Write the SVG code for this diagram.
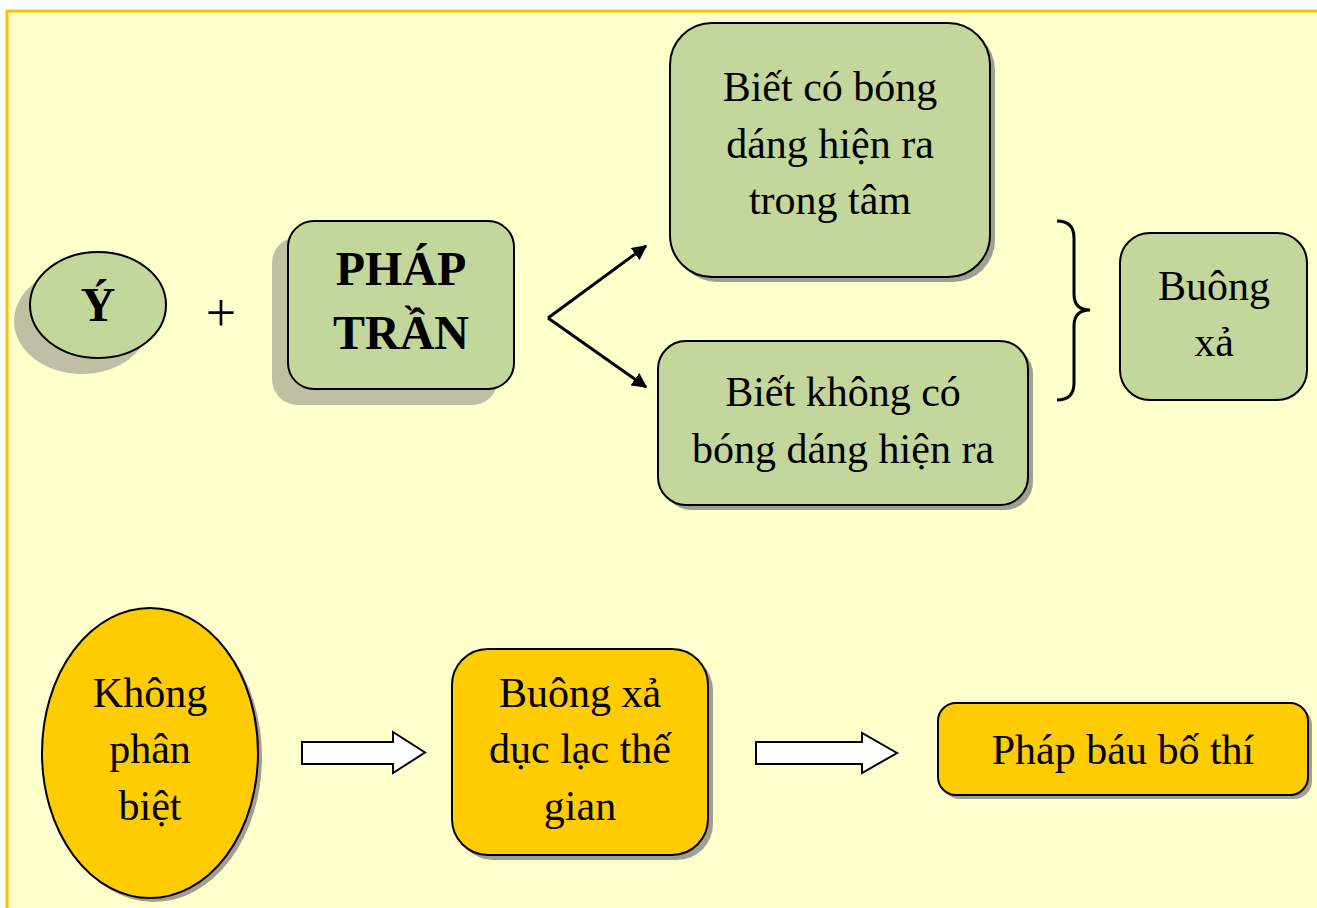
<svg xmlns="http://www.w3.org/2000/svg" width="1317" height="908" viewBox="0 0 1317 908">
<defs>
<style>
.t{font-family:"Liberation Serif","Times New Roman",serif;font-size:42px;fill:#000;text-anchor:middle}
.b{font-weight:bold;font-size:48px}
.plus{font-size:54px}
.g{fill:#C3D69B;stroke:#000;stroke-width:2}
.y{fill:#FFCC00;stroke:#000;stroke-width:2}
.sh1{fill:#C0BFA4}
.sh2{fill:#7F7F7F;opacity:0.75}
.ln{fill:none;stroke:#000;stroke-width:3}
.blk{fill:#fff;stroke:#000;stroke-width:2}
</style>
<marker id="ah" viewBox="0 0 10 10" refX="9" refY="5" markerWidth="5" markerHeight="5" orient="auto" markerUnits="strokeWidth">
<path d="M0,0 L10,5 L0,10 z" fill="#000"/>
</marker>
</defs>
<rect x="0" y="0" width="1317" height="908" fill="#fff"/>
<rect x="7" y="11" width="1320" height="910" fill="#FFFFCC" stroke="#FFC000" stroke-width="3"/>

<g id="node-y">
<ellipse class="sh1" cx="82" cy="321" rx="68" ry="53"/>
<ellipse class="g" cx="98" cy="305" rx="68" ry="53"/>
<text class="t b" x="98" y="321">Ý</text>
</g>
<text class="t plus" x="221" y="331">+</text>
<g id="node-phaptran">
<rect class="sh1" x="272" y="237" width="226" height="168" rx="26"/>
<rect class="g" x="288" y="221" width="226" height="168" rx="26"/>
<text class="t b" x="401" y="285">PHÁP</text>
<text class="t b" x="401" y="349">TRẦN</text>
</g>
<g id="node-biet-co">
<rect class="sh2" x="675" y="28" width="320" height="254" rx="42"/>
<rect class="g" x="670" y="23" width="320" height="254" rx="42"/>
<text class="t" x="830" y="101">Biết có bóng</text>
<text class="t" x="830" y="158">dáng hiện ra</text>
<text class="t" x="830" y="214">trong tâm</text>
</g>
<g id="node-biet-khong">
<rect class="sh2" x="663" y="346" width="370" height="164" rx="28"/>
<rect class="g" x="658" y="341" width="370" height="164" rx="28"/>
<text class="t" x="843" y="406">Biết không có</text>
<text class="t" x="843" y="463">bóng dáng hiện ra</text>
</g>
<g id="node-buong-xa">
<rect class="g" x="1120" y="233" width="187" height="167" rx="30"/>
<text class="t" x="1214" y="300">Buông</text>
<text class="t" x="1214" y="356">xả</text>
</g>
<g id="node-khong-phan-biet">
<ellipse class="sh2" cx="154" cy="757" rx="108" ry="145"/>
<ellipse class="y" cx="150" cy="753" rx="108" ry="145"/>
<text class="t" x="150" y="707">Không</text>
<text class="t" x="150" y="763">phân</text>
<text class="t" x="150" y="820">biệt</text>
</g>
<g id="node-buong-xa-duc-lac">
<rect class="sh2" x="457" y="654" width="256" height="206" rx="36"/>
<rect class="y" x="452" y="649" width="256" height="206" rx="36"/>
<text class="t" x="580" y="707">Buông xả</text>
<text class="t" x="580" y="763">dục lạc thế</text>
<text class="t" x="580" y="820">gian</text>
</g>
<g id="node-phap-bau">
<rect class="sh2" x="942" y="707" width="370" height="92" rx="18"/>
<rect class="y" x="938" y="703" width="370" height="92" rx="18"/>
<text class="t" x="1123" y="764">Pháp báu bố thí</text>
</g>
<g id="connectors">
<line class="ln" x1="548" y1="318" x2="646" y2="246" marker-end="url(#ah)"/>
<line class="ln" x1="548" y1="318" x2="646" y2="387" marker-end="url(#ah)"/>
<path class="ln" d="M1057,221 Q1074,221 1074,238 L1074,294 Q1074,310 1090,310 Q1074,310 1074,326 L1074,383 Q1074,400 1057,400"/>
<path class="blk" d="M302,742 L393,742 L393,732 L425,752.5 L393,773 L393,764 L302,764 Z"/>
<path class="blk" d="M756,742 L862,742 L862,733 L897,753 L862,773 L862,764 L756,764 Z"/>
</g>
</svg>
